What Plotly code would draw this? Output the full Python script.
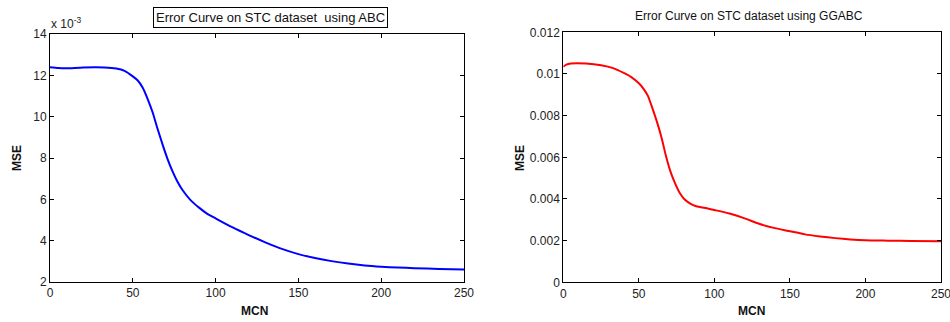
import plotly.graph_objects as go

# ---- data ----
abc_mcn = [0, 5, 10, 20, 33, 40, 45, 50, 53, 56, 59, 62, 65, 68, 71, 74, 77, 80, 85, 90, 95,
           100, 110, 120, 130, 140, 150, 160, 170, 180, 190, 200, 210, 220, 235, 250]
abc_mse = [0.01239, 0.01235, 0.01234, 0.01238, 0.01238, 0.01233, 0.01222, 0.01195, 0.01175,
           0.01140, 0.01085, 0.01020, 0.00940, 0.00865, 0.00795, 0.00735, 0.00685, 0.00645,
           0.00595, 0.00560, 0.00530, 0.00508, 0.00465, 0.00427, 0.00392, 0.00360, 0.00335,
           0.00316, 0.00301, 0.00289, 0.00280, 0.00274, 0.00270, 0.00267, 0.00263, 0.00260]

ggabc_mcn = [0, 2, 5, 15, 25, 33, 40, 45, 50, 53, 56, 59, 62, 65, 68, 71, 74, 77, 80, 84, 88,
             95, 100, 110, 120, 130, 140, 150, 160, 170, 180, 190, 200, 215, 230, 250]
ggabc_mse = [0.01035, 0.01045, 0.0105, 0.0105, 0.01042, 0.01028, 0.01005, 0.00985, 0.00955,
             0.00930, 0.00895, 0.00835, 0.00770, 0.00695, 0.00605, 0.00530, 0.00475, 0.00430,
             0.00400, 0.00378, 0.00365, 0.00355, 0.00347, 0.00330, 0.00307, 0.00280, 0.00260,
             0.00245, 0.00230, 0.00220, 0.00212, 0.00206, 0.00202, 0.00200, 0.00198, 0.00197]

x_ticks = [0, 50, 100, 150, 200, 250]
left_y_ticks = [0.002, 0.004, 0.006, 0.008, 0.010, 0.012, 0.014]
left_y_text = ["2", "4", "6", "8", "10", "12", "14"]
right_y_ticks = [0, 0.002, 0.004, 0.006, 0.008, 0.010, 0.012]
right_y_text = ["0", "0.002", "0.004", "0.006", "0.008", "0.01", "0.012"]

W, H = 950, 322
FONT = "Liberation Sans, Arial, sans-serif"

fig = go.Figure()
fig.add_trace(go.Scatter(x=abc_mcn, y=abc_mse, mode="lines",
                         line=dict(color="#0000FF", width=2, shape="spline", smoothing=0.6),
                         xaxis="x", yaxis="y", showlegend=False))
fig.add_trace(go.Scatter(x=ggabc_mcn, y=ggabc_mse, mode="lines",
                         line=dict(color="#FF0000", width=2, shape="spline", smoothing=0.6),
                         xaxis="x2", yaxis="y2", showlegend=False))

def px_x(p):
    return p / W

def px_y(p):
    return 1 - p / H

axis_common = dict(showgrid=False, zeroline=False, showline=True, linecolor="black", linewidth=1,
                   mirror="ticks", ticks="inside", ticklen=4, tickcolor="black", automargin=False,
                   ticklabeloverflow="allow",
                   tickfont=dict(family=FONT, size=12, color="#222"))

fig.update_layout(
    width=W, height=H,
    margin=dict(l=0, r=0, t=0, b=0, autoexpand=False),
    paper_bgcolor="white", plot_bgcolor="white",
    xaxis=dict(domain=[px_x(50), px_x(464)], range=[0, 250], tickvals=x_ticks, anchor="y", **axis_common),
    yaxis=dict(domain=[px_y(282), px_y(34)], range=[0.002, 0.014], tickvals=left_y_ticks,
               ticktext=left_y_text, anchor="x", **axis_common),
    xaxis2=dict(domain=[px_x(563.3), px_x(941)], range=[0, 250], tickvals=x_ticks, anchor="y2", **axis_common),
    yaxis2=dict(domain=[px_y(282.3), px_y(32.3)], range=[0, 0.012], tickvals=right_y_ticks,
                ticktext=right_y_text, anchor="x2", **axis_common),
)

ann = [
    dict(x=px_x(270), y=px_y(17.5), text="Error Curve on STC dataset  using ABC",
         font=dict(family=FONT, size=13, color="#111"), bordercolor="black", borderwidth=1,
         borderpad=2, bgcolor="white"),
    dict(x=px_x(749), y=px_y(16), text="Error Curve on STC dataset using GGABC",
         font=dict(family=FONT, size=12, color="#111")),
    dict(x=px_x(49), y=px_y(23), xanchor="left", text="x 10<sup>-3</sup>",
         font=dict(family=FONT, size=12, color="#222")),
    dict(x=px_x(17), y=px_y(158), text="<b>MSE</b>", textangle=-90,
         font=dict(family=FONT, size=12, color="#111")),
    dict(x=px_x(520), y=px_y(158), text="<b>MSE</b>", textangle=-90,
         font=dict(family=FONT, size=12, color="#111")),
    dict(x=px_x(254), y=px_y(311), text="<b>MCN</b>", font=dict(family=FONT, size=12, color="#111")),
    dict(x=px_x(751), y=px_y(311), text="<b>MCN</b>", font=dict(family=FONT, size=12, color="#111")),
]
for a in ann:
    a.setdefault("xref", "paper")
    a.setdefault("yref", "paper")
    a.setdefault("showarrow", False)
    a.setdefault("xanchor", "center")
    a.setdefault("yanchor", "middle")
fig.update_layout(annotations=ann)

fig.write_html("out.html", config={"displayModeBar": False},
               post_script="document.body.style.margin='0';document.body.style.overflow='hidden';")
